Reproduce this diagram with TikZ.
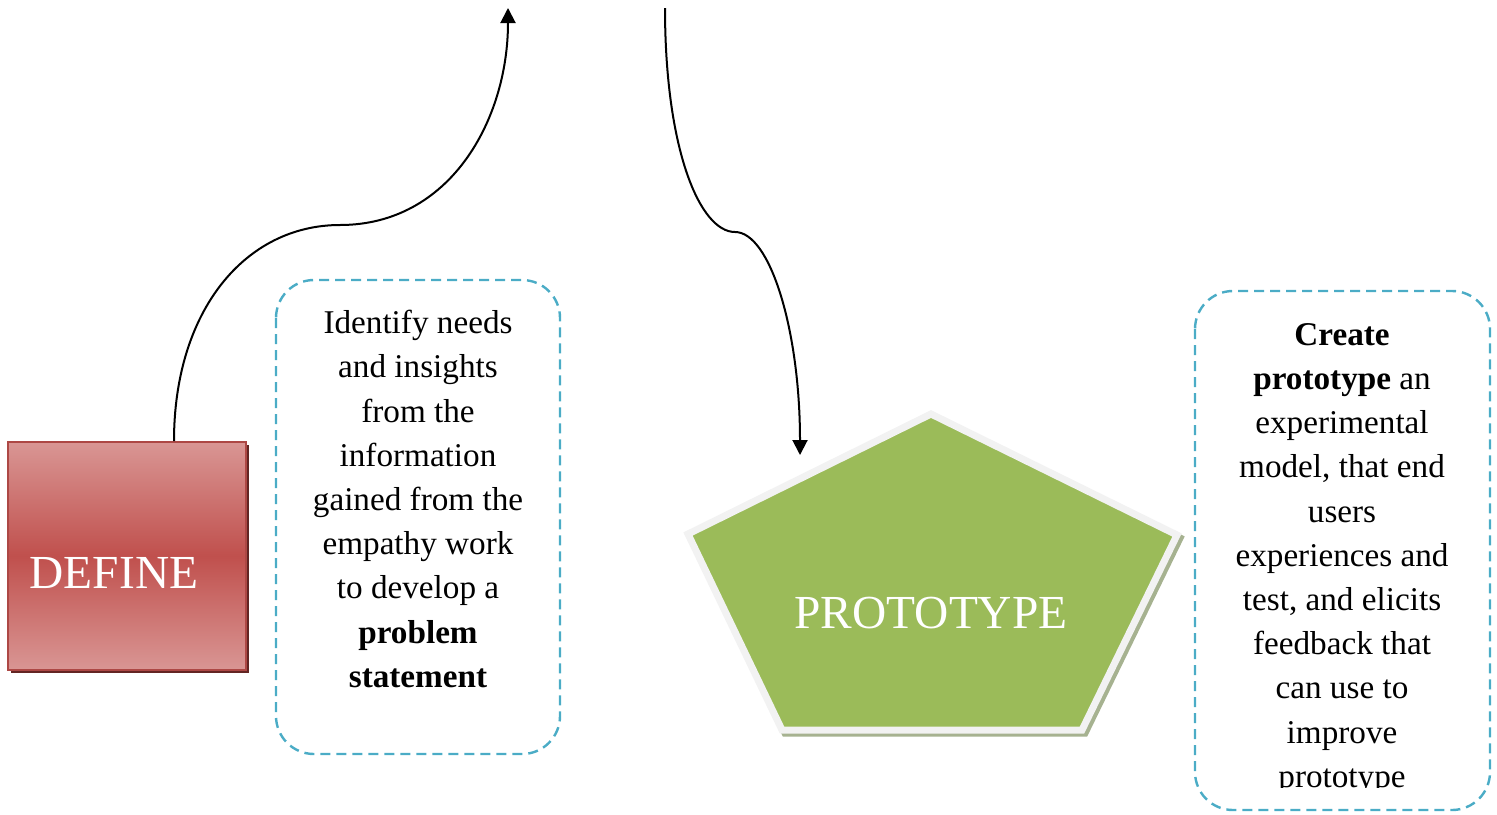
\documentclass[tikz,border=0pt]{standalone}
\usepackage{fontspec}
\setmainfont{Liberation Serif}
\usetikzlibrary{arrows.meta,calc,shadows}
\definecolor{dfred}{RGB}{192,80,77}
\definecolor{dflight}{RGB}{217,150,148}
\definecolor{dfshadow}{RGB}{99,37,35}
\definecolor{ptgreen}{RGB}{155,187,89}
\definecolor{ptrim}{RGB}{242,242,242}
\definecolor{ptshadow}{RGB}{166,178,144}
\definecolor{nteal}{RGB}{75,172,198}

\begin{document}
\begin{tikzpicture}[x=0.5pt,y=-0.5pt,>={Triangle[length=7.5pt,width=7.5pt]},
    big/.style={font=\fontsize{23.7}{28}\selectfont,text=white},
    body/.style={font=\fontsize{16.6}{22.1}\selectfont,align=center,anchor=north,inner sep=0pt},
    notebox/.style={nteal,line width=1.2pt,dash pattern=on 5pt off 3pt,rounded corners=19pt},
    link/.style={->,line width=1pt}]
  \useasboundingbox (0,0) rectangle (1497,814);

  % define box
  \node[draw=dfred!90!black,line width=1pt,top color=dflight,bottom color=dflight,middle color=dfred,
        minimum width=119pt,minimum height=114pt,
        drop shadow={shadow xshift=1.5pt,shadow yshift=-1.5pt,fill=dfshadow,opacity=1},
        label={[big,xshift=-6.5pt,yshift=-8.5pt]center:DEFINE}] (def) at (127,556) {};

  % prototype pentagon
  \coordinate (pa) at (931,414);
  \coordinate (pb) at (1177,535);
  \coordinate (pc) at (1082,730);
  \coordinate (pd) at (782,730);
  \coordinate (pe) at (688,534);
  \filldraw[ptshadow,line width=3.5pt] ([shift={(3,3)}]pa) -- ([shift={(3,3)}]pb) -- ([shift={(3,3)}]pc)
    -- ([shift={(3,3)}]pd) -- ([shift={(3,3)}]pe) -- cycle;
  \filldraw[fill=ptgreen,draw=ptrim,line width=3.5pt] (pa) -- (pb) -- (pc) -- (pd) -- (pe) -- cycle;
  \node[big] (proto) at (931,613) {PROTOTYPE};

  % notes
  \draw[notebox] (276,280) rectangle (560,754);
  \node[body] (defnote) at (418,310) {Identify needs\\and insights\\from the\\information\\gained from the\\empathy work\\to develop a\\\textbf{problem}\\\textbf{statement}};
  \draw[notebox] (1195,291) rectangle (1490,810);
  \begin{scope}
    \clip (1195,291) rectangle (1490,787);
    \node[body] (protonote) at (1342,323) {\textbf{Create}\\\textbf{prototype} an\\experimental\\model, that end\\users\\experiences and\\test, and elicits\\feedback that\\can use to\\improve\\prototype};
  \end{scope}

  % connectors
  \coordinate (up) at (508,8);
  \coordinate (down) at (665,8);
  \coordinate (tip) at (800,455);
  \draw[link] ($(def.north)+(47,0)$) .. controls +(0,-130) and (245,225) .. (340,225)
    .. controls (450,225) and (508,120) .. (up);
  \draw[link] (down) .. controls (665,150) and (700,232) .. (735,232)
    .. controls (770,232) and (800,330) .. (tip);
\end{tikzpicture}
\end{document}
